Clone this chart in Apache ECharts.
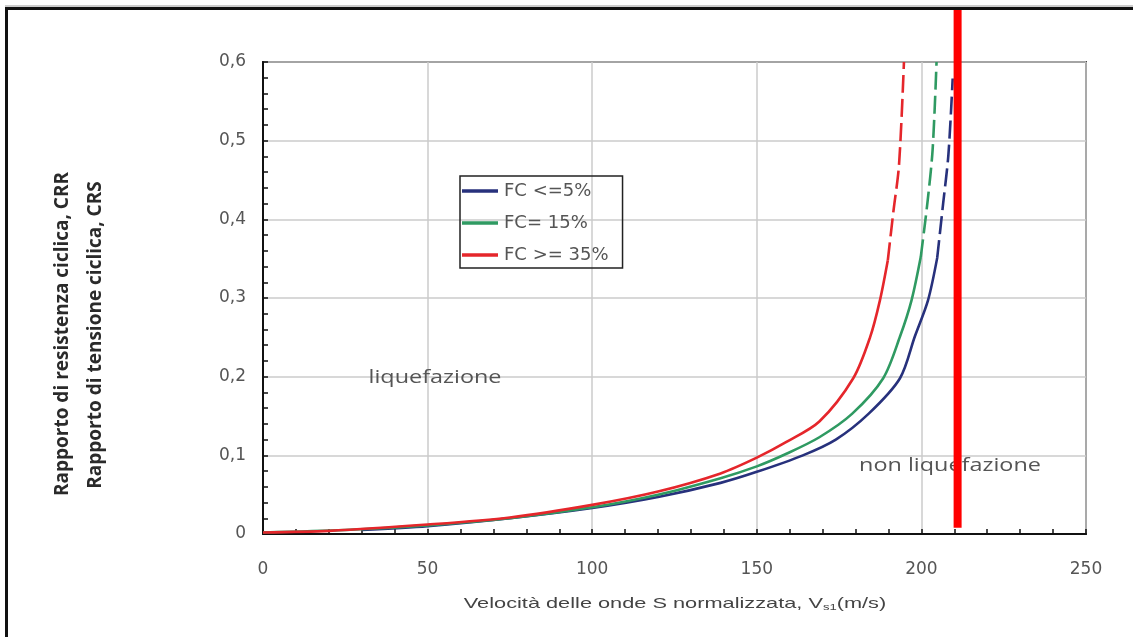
<!DOCTYPE html>
<html><head><meta charset="utf-8">
<script src="https://cdn.jsdelivr.net/npm/echarts@6/dist/echarts.min.js"></script>
<style>
html,body{margin:0;padding:0;background:#fff;overflow:hidden;width:1133px;height:637px;}
#frame{position:absolute;left:5px;top:7px;width:1200px;height:700px;border-top:3px solid #111;border-left:3px solid #111;box-shadow:0 -2px 0 #ccc;}
#chart{position:absolute;left:0;top:0;width:1133px;height:637px;}
</style></head><body>
<div id="frame"></div>
<div id="chart"></div>
<script>
// ---- data ----
const seriesNames = ['FC <=5%', 'FC= 15%', 'FC >= 35%'];
const blueSolid = [[30,0.005],[50,0.010],[75,0.020],[100,0.033],[120,0.047],[139,0.065],[150,0.079],[164,0.100],[174,0.120],[184,0.153],[193.5,0.198],[198,0.251],[202,0.297],[204.8,0.351]];
const blueDashed = [[204.8,0.351],[206.6,0.42],[208.2,0.482],[209.5,0.579]];
const greenSolid = [[0,0.002],[25,0.005],[50,0.011],[75,0.020],[100,0.034],[120,0.050],[139,0.071],[150,0.086],[159,0.102],[169,0.123],[179,0.153],[188.4,0.198],[193.5,0.251],[197,0.297],[199.8,0.352]];
const greenDashed = [[199.8,0.352],[201.8,0.42],[203.4,0.488],[204.6,0.6]];
const redSolid = [[0,0.002],[20,0.004],[50,0.012],[75,0.021],[100,0.037],[120,0.054],[139,0.077],[150,0.097],[159,0.117],[169,0.143],[179.3,0.198],[184.4,0.25],[187.4,0.297],[189.8,0.348]];
const redDashed = [[189.8,0.348],[191.5,0.41],[193.2,0.469],[194.7,0.6]];
const cutoffLine = [[211,0.008],[211,0.666]];
const xTickLabels = ['0','50','100','150','200','250'];
const yTickLabels = ['0','0,1','0,2','0,3','0,4','0,5','0,6'];
const yTitleLines = ['Rapporto di resistenza ciclica, CRR', 'Rapporto di tensione ciclica, CRS'];
const xTitleParts = ['Velocità delle onde S normalizzata, V', 's1', '(m/s)'];
const regionLabels = ['liquefazione', 'non liquefazione'];

const colors = ['#27317c', '#2f9a62', '#e5262b'];

const chart = echarts.init(document.getElementById('chart'), null, {renderer:'canvas'});

function curve(name, data, color, dashed) {
  return {
    name: name, type: 'line', data: data, showSymbol: false, symbol: 'none',
    smooth: 0.3, z: 5,
    lineStyle: {color: color, width: 2.6, type: dashed ? [18, 6] : 'solid'},
    itemStyle: {color: color}
  };
}

const labelFont = 'DejaVu Sans, sans-serif';

const option = {
  animation: false,
  color: colors,
  grid: {left: 263, right: 47, top: 62, bottom: 103, show: true, borderColor: '#333', borderWidth: 1.8, backgroundColor: 'transparent'},
  legend: {
    left: 460, top: 176, orient: 'vertical',
    data: seriesNames.map(n => ({name: n, icon: 'rect'})),
    itemWidth: 36, itemHeight: 3.5, itemGap: 14,
    padding: [6, 14, 4, 2],
    borderColor: '#222', borderWidth: 1.5,
    textStyle: {fontFamily: labelFont, fontSize: 18, color: '#555', lineHeight: 18, padding:[0,0,0,1]}
  },
  xAxis: {
    type: 'value', min: 0, max: 250, interval: 50,
    axisLine: {show: true, lineStyle: {color: '#111', width: 2}},
    axisTick: {show: true, inside: true, length: 5, lineStyle: {color: '#111', width: 1.5}},
    minorTick: {show: true, splitNumber: 5, length: 5, lineStyle: {color: '#111', width: 1.5}},
    splitLine: {show: true, lineStyle: {color: '#cbcbcb', width: 1.5}},
    axisLabel: {margin: 27, fontFamily: labelFont, fontSize: 17, color: '#555',
      formatter: v => xTickLabels[Math.round(v / 50)]}
  },
  yAxis: {
    type: 'value', min: 0, max: 0.6, interval: 0.1,
    axisLine: {show: true, lineStyle: {color: '#111', width: 2}},
    axisTick: {show: true, inside: true, length: 5, lineStyle: {color: '#111', width: 1.5}},
    minorTick: {show: true, splitNumber: 5, length: 5, lineStyle: {color: '#111', width: 1.5}},
    splitLine: {show: true, lineStyle: {color: '#cbcbcb', width: 1.5}},
    axisLabel: {margin: 17, fontFamily: labelFont, fontSize: 17, color: '#555',
      formatter: v => yTickLabels[Math.round(v * 10)]}
  },
  graphic: [
    {type: 'text', x: 63, y: 334, rotation: Math.PI / 2, z: 1,
      style: {text: yTitleLines[0], font: 'bold 19px "Open Sans", sans-serif', fill: '#2a2a2a', textAlign: 'center', textVerticalAlign: 'middle'}},
    {type: 'text', x: 96, y: 335, rotation: Math.PI / 2, z: 1,
      style: {text: yTitleLines[1], font: 'bold 19px "Open Sans", sans-serif', fill: '#2a2a2a', textAlign: 'center', textVerticalAlign: 'middle'}},
    {type: 'text', x: 675, y: 604, scaleX: 1.45, z: 1,
      style: {text: '{t|' + xTitleParts[0] + '}{s|' + xTitleParts[1] + '}{t|' + xTitleParts[2] + '}',
        textAlign: 'center', textVerticalAlign: 'middle',
        rich: {
          t: {fontFamily: 'Liberation Sans, Arial, sans-serif', fontSize: 15, fill: '#444', color: '#444'},
          s: {fontFamily: 'Liberation Sans, Arial, sans-serif', fontSize: 9, fill: '#444', color: '#444', verticalAlign: 'bottom', padding: [8,0,0,0]}
        }}},
    {type: 'text', x: 435, y: 378, scaleX: 1.3, z: 1,
      style: {text: regionLabels[0], font: '18px "Open Sans", sans-serif', fill: '#555', textAlign: 'center', textVerticalAlign: 'middle'}},
    {type: 'text', x: 950, y: 466, scaleX: 1.3, z: 1,
      style: {text: regionLabels[1], font: '18px "Open Sans", sans-serif', fill: '#555', textAlign: 'center', textVerticalAlign: 'middle'}}
  ],
  series: [
    curve(seriesNames[0], blueSolid, colors[0], false),
    curve(seriesNames[0], blueDashed, colors[0], true),
    curve(seriesNames[1], greenSolid, colors[1], false),
    curve(seriesNames[1], greenDashed, colors[1], true),
    curve(seriesNames[2], redSolid, colors[2], false),
    curve(seriesNames[2], redDashed, colors[2], true),
    {type: 'line', data: cutoffLine, clip: false, symbol: 'none', showSymbol: false, z: 20,
      lineStyle: {color: '#ff0000', width: 8}, silent: true}
  ]
};
chart.setOption(option);
</script>
</body></html>
